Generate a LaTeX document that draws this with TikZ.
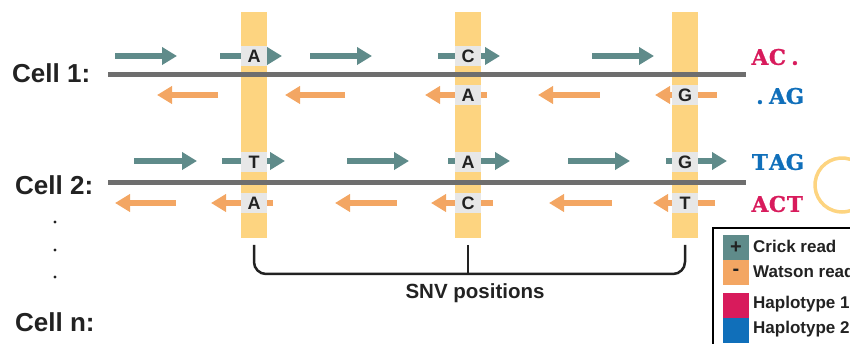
\documentclass[tikz,border=0pt]{standalone}
\usepackage{fontspec}
\setmainfont{Liberation Sans}
\newfontfamily\hapfont[FakeBold=1.2]{DejaVu Serif Bold}
\usetikzlibrary{arrows.meta}
\definecolor{tealc}{HTML}{5F8B8A}
\definecolor{orangec}{HTML}{F3A663}
\definecolor{barc}{HTML}{FDD480}
\definecolor{linec}{HTML}{6E6E6E}
\definecolor{boxc}{HTML}{E7E7E7}
\definecolor{hapone}{HTML}{D81B5C}
\definecolor{haptwo}{HTML}{106FBA}
\definecolor{inkc}{HTML}{222222}
\newcommand\hapch[1]{\makebox[17.5pt]{#1}}
\tikzset{
  crick/.style={draw=tealc, line width=6pt, line cap=butt, -{Triangle[length=15pt,width=17pt]}},
  watson/.style={draw=orangec, line width=6pt, line cap=butt, -{Triangle[length=15pt,width=17pt]}},
  snvbar/.style={fill=barc, draw=none},
  chrom/.style={draw=linec, line width=5pt},
  base/.style={fill=boxc, minimum width=26pt, minimum height=20pt, inner sep=0pt, text=inkc, font=\bfseries\fontsize{18}{18}\selectfont},
  celllab/.style={anchor=west, inner sep=0pt, text=inkc, font=\bfseries\fontsize{26}{26}\selectfont},
  haplab/.style={anchor=west, inner sep=0pt, font=\hapfont\fontsize{21.5}{21.5}\selectfont},
  legtext/.style={anchor=west, inner sep=0pt, text=inkc, font=\bfseries\fontsize{17}{17}\selectfont},
  legsq/.style={draw=none, minimum width=26pt, minimum height=25pt, inner sep=0pt, text=inkc, font=\bfseries\fontsize{20}{20}\selectfont},
}
\begin{document}
\begin{tikzpicture}[x=1pt, y=-1pt]
\useasboundingbox (0,0) rectangle (850,344);
\clip (0,0) rectangle (850,344);
% SNV bars
\foreach \c/\n in {254/a,468/b,685/c}
  \node[snvbar, minimum width=26pt, minimum height=226pt, inner sep=0pt, anchor=north] (bar\n) at (\c,12) {};
% chromosomes
\coordinate (c1s) at (108,75); \coordinate (c1e) at (746,75);
\coordinate (c2s) at (108,183); \coordinate (c2e) at (746,183);
\draw[chrom] (c1s) -- (c1e);
\draw[chrom] (c2s) -- (c2e);
% cell labels
\node[celllab] (cell1) at (12,73) {Cell 1:};
\node[celllab] (cell2) at (15,185) {Cell 2:};
\node[celllab] (celln) at (15,322) {Cell n:};
\fill[inkc] (55,222) circle[radius=1.7pt];
\fill[inkc] (55,250) circle[radius=1.7pt];
\fill[inkc] (55,277) circle[radius=1.7pt];
% reads, cell 1
\draw[crick] (115,56) -- (177,56);
\draw[crick] (220,56) -- (282,56);
\draw[crick] (310,56) -- (372,56);
\draw[crick] (438,56) -- (500,56);
\draw[crick] (592,56) -- (654,56);
\draw[watson] (218,95) -- (157,95);
\draw[watson] (345,95) -- (285,95);
\draw[watson] (487,95) -- (425,95);
\draw[watson] (600,95) -- (538,95);
\draw[watson] (717,95) -- (655,95);
% reads, cell 2
\draw[crick] (134,161) -- (197,161);
\draw[crick] (222,161) -- (285,161);
\draw[crick] (347,161) -- (409,161);
\draw[crick] (448,161) -- (510,161);
\draw[crick] (568,161) -- (630,161);
\draw[crick] (666,161) -- (727,161);
\draw[watson] (176,203) -- (115,203);
\draw[watson] (273,203) -- (211,203);
\draw[watson] (397,203) -- (335,203);
\draw[watson] (493,203) -- (431,203);
\draw[watson] (612,203) -- (549,203);
\draw[watson] (715,203) -- (653,203);
% bases
\node[base] (b1a) at (254,56) {A};
\node[base] (b1c) at (468,56) {C};
\node[base] (b1w2) at (468,95) {A};
\node[base] (b1w3) at (685,95) {G};
\node[base] (b2t) at (254,162) {T};
\node[base] (b2a) at (468,162) {A};
\node[base] (b2g) at (685,162) {G};
\node[base] (b2w1) at (254,203) {A};
\node[base] (b2w2) at (468,203) {C};
\node[base] (b2w3) at (685,203) {T};
% haplotypes
\node[haplab, text=hapone] (h11) at (751,57) {\hapch{A}\hapch{C}\hapch{.}};
\node[haplab, text=haptwo] (h12) at (751,96) {\hapch{.}\hapch{A}\hapch{G}};
\node[haplab, text=haptwo] (h21) at (751,162) {\hapch{T}\hapch{A}\hapch{G}};
\node[haplab, text=hapone] (h22) at (751,204) {\hapch{A}\hapch{C}\hapch{T}};
\draw[barc, line width=3.5pt] (842,185) ++(72:27pt) arc[start angle=72, end angle=288, radius=27pt];
% SNV bracket
\coordinate (k1) at (254,245); \coordinate (k2) at (468,245); \coordinate (k3) at (685,245);
\draw[inkc, line width=2.5pt, rounded corners=12pt] (k1) -- (254,274) -- (685,274) -- (k3);
\draw[inkc, line width=2.5pt] (k2) -- (468,274);
\node[inner sep=0pt, text=inkc, font=\bfseries\fontsize{20.5}{20.5}\selectfont] (snv) at (475,293) {SNV positions};
% legend
\draw[black, line width=2.5pt] (713,228) rectangle (900,380);
\node[legsq, fill=tealc] (lq1) at (736,247.5) {+};
\node[legsq, fill=orangec] (lq2) at (736,272.5) {-};
\node[legsq, fill=hapone] (lq3) at (736,305.5) {};
\node[legsq, fill=haptwo] (lq4) at (736,330.5) {};
\node[legtext] (lt1) at (753,246) {Crick read};
\node[legtext] (lt2) at (753,271) {Watson read};
\node[legtext] (lt3) at (753,304) {Haplotype 1};
\node[legtext] (lt4) at (753,329) {Haplotype 2};
\end{tikzpicture}
\end{document}
